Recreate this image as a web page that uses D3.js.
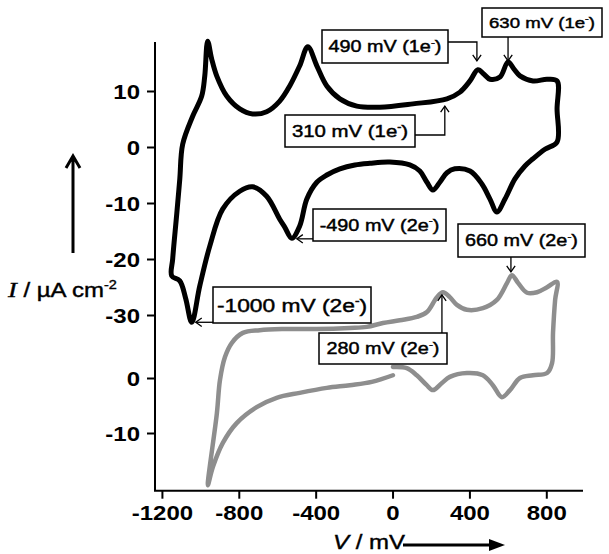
<!DOCTYPE html>
<html>
<head>
<meta charset="utf-8">
<script src="https://cdn.jsdelivr.net/npm/d3@7"></script>
<style>
body { margin: 0; background: #fff; }
text { font-family: "Liberation Sans", Arial, sans-serif; fill: #000; }
</style>
</head>
<body>
<div id="chart"></div>
<script>
const width = 609;
const height = 554;

// upper (black) CV, potential mV / current uA cm-2
const blackV = [856, 856, 856, 793, 731, 689, 637, 585, 543, 507, 465, 403, 324, 283, 246, 210, 179, 142, 90, -14,
    -118, -196, -274, -342, -394, -446, -483, -524, -561, -587, -655, -728, -795, -884, -951, -1003, -1045, -1076,
    -1107, -1149, -1144, -1123, -1107, -1092, -1040, -993, -977, -962, -941, -915, -863, -795, -728, -655, -587,
    -535, -483, -441, -394, -342, -274, -186, -66, 106, 283, 351, 403, 444, 476, 507, 559, 601, 632, 663, 731, 804];
const blackI = [11.8, 6.8, 0.9, -0.4, -2.1, -3.4, -5.7, -9.3, -11.6, -9.3, -6.6, -4.3, -3.9, -4.6, -6.3, -7.7, -6.3,
    -4.3, -3.2, -2.7, -2.9, -3.2, -3.9, -5.0, -6.3, -9.3, -14.1, -16.3, -14.3, -12.9, -8.8, -7.1, -7.9, -11.1, -17.7,
    -24.8, -31.3, -27.1, -23.9, -23.0, -20.0, -12.0, -5.7, 0.5, 5.5, 9.1, 12.7, 18.9, 15.7, 12.7, 9.1, 6.8, 5.9, 6.3,
    8.2, 10.9, 14.5, 17.9, 14.5, 10.9, 8.6, 7.3, 7.1, 7.7, 8.6, 9.8, 11.8, 13.8, 13.0, 12.1, 12.5, 15.2, 13.9, 12.7,
    11.8, 12.1];

// lower (gray) CV
const grayV = [2, 74, 126, 178, 210, 257, 298, 387, 470, 522, 569, 611, 663, 731, 804, 830, 835, 846, 856, 804, 752,
    700, 653, 621, 596, 543, 470, 387, 335, 298, 262, 231, 179, 126, 38, -50, -134, -222, -394, -571, -691, -779,
    -836, -872, -898, -914, -961, -935, -883, -811, -707, -603, -483, -342, -222, -108, 2];
const grayI = [2.0, 1.8, 0.5, -1.3, -2.2, -0.9, 0.2, 0.9, 0.5, -1.3, -3.5, -2.2, 0, 0.5, 0.9, 2.7, 8.2, 14.2, 17.5,
    16.5, 15.6, 15.5, 17.3, 18.7, 17.3, 14.2, 12.7, 12.4, 13.3, 14.7, 15.6, 14.7, 12.0, 11.1, 10.5, 10.0, 9.3, 9.1,
    8.9, 8.9, 8.7, 8.2, 6.4, 3.8, -0.4, -6.4, -19.5, -16.2, -11.8, -8.2, -5.3, -3.6, -2.7, -1.8, -1.3, -0.7, 0.5];

const xTicks = [-1200, -800, -400, 0, 400, 800];
const upperTicks = [-30, -20, -10, 0, 10];
const lowerTicks = [-10, 0];

const peakLabels = ["630 mV (1e-)", "490 mV (1e-)", "310 mV (1e-)", "-490 mV (2e-)", "660 mV (2e-)",
    "-1000 mV (2e-)", "280 mV (2e-)"];
const peakPanel = ["upper", "upper", "upper", "upper", "lower", "upper", "lower"];
const peakV = [601, 439, 272, -498, 616, -1024, 257];
const peakI = [15.4, 15.4, 7.3, -16.4, 19.3, -31.3, 15.1];

// box placement for each label
const boxLayout = [
    { x: 482, y: 8, w: 120, h: 29, route: "down", fs: 15.5 },
    { x: 322, y: 30, w: 126, h: 33, route: "rightDown", cy: 42, fs: 16.5 },
    { x: 285, y: 115, w: 130, h: 32, route: "rightUp", cy: 135, fs: 17 },
    { x: 313, y: 209, w: 133, h: 32, route: "left", fs: 16.5 },
    { x: 458, y: 224, w: 127, h: 33, route: "down", fs: 16.5 },
    { x: 213, y: 287, w: 158, h: 36, route: "left", fs: 19 },
    { x: 319, y: 333, w: 128, h: 31, route: "up", fs: 16.5 }
];

const svg = d3.select('#chart')
    .append('svg')
    .attr('width', width)
    .attr('height', height)

const x = d3.scaleLinear().domain([-1236, 991]).range([155, 583]);
const yU = d3.scaleLinear().domain([-30, 10]).range([315, 91]);
const yL = d3.scaleLinear().domain([-10, 0]).range([433, 378]);
const axisY = 490.7;

const stretch = "scale(1.2,1)";
const fmt = d => String(d);

// axes
svg.append('path')
    .attr('d', `M155,42V${axisY}H583`)
    .attr('fill', 'none')
    .attr('stroke', '#000')
    .attr('stroke-width', 2)

const xAxis = svg.append('g')
    .attr('transform', `translate(0,${axisY})`)
    .call(d3.axisBottom(x).tickValues(xTicks).tickFormat(fmt).tickSize(8).tickSizeOuter(0))
xAxis.select('.domain').remove();
xAxis.selectAll('.tick line').attr('stroke-width', 2);
xAxis.selectAll('.tick text')
    .attr('y', null).attr('dy', null)
    .attr('transform', 'translate(0,29) ' + stretch)
    .attr('font-size', 20)
    .attr('font-weight', 'bold')
    .attr('font-family', '"Liberation Sans", Arial, sans-serif')

function yAxis(scale, ticks) {
    const g = svg.append('g')
        .attr('transform', 'translate(155,0)')
        .call(d3.axisLeft(scale).tickValues(ticks).tickFormat(fmt).tickSize(8).tickSizeOuter(0))
    g.select('.domain').remove();
    g.selectAll('.tick line').attr('stroke-width', 2);
    g.selectAll('.tick text')
        .attr('x', null).attr('dy', null)
        .attr('transform', 'translate(-15,7) ' + stretch)
        .attr('font-size', 20)
        .attr('font-weight', 'bold')
        .attr('font-family', '"Liberation Sans", Arial, sans-serif')
}
yAxis(yU, upperTicks);
yAxis(yL, lowerTicks);

// curves
const lineU = d3.line().x(d => x(d[0])).y(d => yU(d[1])).curve(d3.curveCatmullRomClosed.alpha(0.5));
const lineL = d3.line().x(d => x(d[0])).y(d => yL(d[1])).curve(d3.curveCatmullRom.alpha(0.5));

svg.append('path')
    .attr('d', lineL(d3.zip(grayV, grayI)))
    .attr('fill', 'none')
    .attr('stroke', '#8e8e8e')
    .attr('stroke-width', 4.5)
    .attr('stroke-linejoin', 'round')
    .attr('stroke-linecap', 'round')

svg.append('path')
    .attr('d', lineU(d3.zip(blackV, blackI)))
    .attr('fill', 'none')
    .attr('stroke', '#000')
    .attr('stroke-width', 5)
    .attr('stroke-linejoin', 'round')

// annotations
function arrowHead(tx, ty, dir) {
    const s = 6;
    const pts = {
        down: [[tx - s * 0.7, ty - s], [tx, ty], [tx + s * 0.7, ty - s]],
        up: [[tx - s * 0.7, ty + s], [tx, ty], [tx + s * 0.7, ty + s]],
        left: [[tx + s, ty - s * 0.7], [tx, ty], [tx + s, ty + s * 0.7]]
    }[dir];
    return d3.line()(pts);
}

peakLabels.forEach((label, i) => {
    const b = boxLayout[i];
    const ys = peakPanel[i] === "upper" ? yU : yL;
    const tx = x(peakV[i]);
    const ty = ys(peakI[i]);
    const g = svg.append('g');

    let conn, dir;
    if (b.route === "down") { conn = `M${tx},${b.y + b.h}V${ty}`; dir = "down"; }
    if (b.route === "up") { conn = `M${tx},${b.y}V${ty}`; dir = "up"; }
    if (b.route === "left") { conn = `M${b.x},${ty}H${tx}`; dir = "left"; }
    if (b.route === "rightDown") { conn = `M${b.x + b.w},${b.cy}H${tx}V${ty}`; dir = "down"; }
    if (b.route === "rightUp") { conn = `M${b.x + b.w},${b.cy}H${tx}V${ty}`; dir = "up"; }

    g.append('path').attr('d', conn).attr('fill', 'none').attr('stroke', '#000').attr('stroke-width', 1.3);
    g.append('path').attr('d', arrowHead(tx, ty, dir)).attr('fill', 'none').attr('stroke', '#000').attr('stroke-width', 1.3);

    g.append('rect')
        .attr('x', b.x).attr('y', b.y).attr('width', b.w).attr('height', b.h)
        .attr('fill', '#fff').attr('stroke', '#000').attr('stroke-width', 1.5)

    const m = label.match(/^(.*e)-(\))$/);
    const t = g.append('text')
        .attr('text-anchor', 'middle')
        .attr('font-size', b.fs)
        .attr('stroke', '#000')
        .attr('stroke-width', 0.45)
        .attr('transform', `translate(${b.x + b.w / 2},${b.y + b.h / 2 + b.fs * 0.36}) ${stretch}`)
    t.append('tspan').text(m[1]);
    t.append('tspan').attr('font-size', b.fs * 0.6).attr('dy', -b.fs * 0.42).text('-');
    t.append('tspan').attr('dy', b.fs * 0.42).text(m[2]);
});

// axis titles
const yTitle = svg.append('text')
    .attr('transform', 'translate(8,297) ' + stretch)
    .attr('font-size', 20)
    .attr('stroke', '#000')
    .attr('stroke-width', 0.4)
yTitle.append('tspan').attr('font-family', '"Liberation Serif", "Times New Roman", serif')
    .attr('font-style', 'italic').attr('font-size', 22).text('I');
yTitle.append('tspan').text(' / \u00b5A cm');
yTitle.append('tspan').attr('font-size', 12).attr('dy', -8).text('-2');

svg.append('path')
    .attr('d', 'M73,253V157M66,168L73,156L80,168')
    .attr('fill', 'none').attr('stroke', '#000').attr('stroke-width', 3)

const xTitle = svg.append('text')
    .attr('transform', 'translate(333,549) ' + stretch)
    .attr('font-size', 20)
    .attr('stroke', '#000')
    .attr('stroke-width', 0.4)
xTitle.append('tspan').attr('font-style', 'italic').text('V');
xTitle.append('tspan').text(' / mV');

svg.append('path')
    .attr('d', 'M403,545H492')
    .attr('stroke', '#000').attr('stroke-width', 3)
svg.append('path')
    .attr('d', 'M489,539L505,545L489,551Z')
    .attr('fill', '#000')
</script>
</body>
</html>
